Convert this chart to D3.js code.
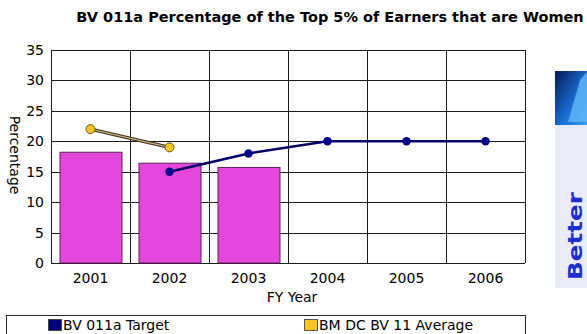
<!DOCTYPE html>
<html>
<head>
<meta charset="utf-8">
<script src="https://cdn.jsdelivr.net/npm/d3@7"></script>
<style>
  html, body { margin: 0; padding: 0; background: #fff; }
  svg { display: block; }
  text { font-family: "DejaVu Sans", Verdana, sans-serif; fill: #000; }
</style>
</head>
<body>
<svg id="chart" width="587" height="334"></svg>
<script>
// Fiscal years on the x axis
const years = ["2001", "2002", "2003", "2004", "2005", "2006"];
// Actual outturn (bars)
const actualValues = [18.2, 16.4, 15.7, null, null, null];
// BV 011a Target (navy line)
const targetValues = [null, 15, 18, 20, 20, 20];
// BM DC BV 11 Average (yellow line)
const averageValues = [22, 19, null, null, null, null];
// Value axis ticks
const yTicks = [0, 5, 10, 15, 20, 25, 30, 35];

const titleText = "BV 011a Percentage of the Top 5% of Earners that are Women";
const xTitle = "FY Year";
const yTitle = "Percentage";
const legendItems = [
  { label: "BV 011a Target", color: "#00007f" },
  { label: "BM DC BV 11 Average", color: "#f7c51e" }
];

const svg = d3.select("#chart");
const plot = { left: 51, right: 525, top: 50, bottom: 263 };

const x = d3.scaleBand().domain(years).range([plot.left, plot.right]).padding(0);
const y = d3.scaleLinear().domain([0, 35]).range([plot.bottom, plot.top]);
const cx = d => x(d) + x.bandwidth() / 2;

// Title
svg.append("text")
  .attr("x", 330).attr("y", 22)
  .attr("text-anchor", "middle")
  .style("font-weight", "bold")
  .style("font-size", "14.5px")
  .text(titleText);

// Horizontal gridlines
svg.append("g").selectAll("line").data(yTicks).join("line")
  .attr("x1", plot.left).attr("x2", plot.right)
  .attr("y1", d => Math.round(y(d)) + 0.5).attr("y2", d => Math.round(y(d)) + 0.5)
  .attr("stroke", "#1a1a1a").attr("stroke-width", 1);

// Vertical gridlines at category boundaries
const bounds = years.map(d => x(d)).concat([plot.right]);
svg.append("g").selectAll("line").data(bounds).join("line")
  .attr("x1", d => Math.round(d) + 0.5).attr("x2", d => Math.round(d) + 0.5)
  .attr("y1", plot.top).attr("y2", plot.bottom)
  .attr("stroke", "#1a1a1a").attr("stroke-width", 1);

// Y axis labels
const yAxis = d3.axisLeft(y).tickValues(yTicks).tickSize(0).tickPadding(7);
const gy = svg.append("g").attr("transform", `translate(${plot.left},0)`).call(yAxis);
gy.select(".domain").remove();
gy.selectAll("text").style("font-size", "14px").style("font-family", "DejaVu Sans, sans-serif");

// X axis labels
const xAxis = d3.axisBottom(x).tickSize(0).tickPadding(10);
const gx = svg.append("g").attr("transform", `translate(0,${plot.bottom})`).call(xAxis);
gx.select(".domain").remove();
gx.selectAll("text").style("font-size", "14px").style("font-family", "DejaVu Sans, sans-serif");

// Bars
const barW = 62;
svg.append("g").selectAll("rect")
  .data(years.map((yr, i) => ({ yr, v: actualValues[i] })).filter(d => d.v != null))
  .join("rect")
  .attr("x", d => cx(d.yr) - barW / 2 + 0.5)
  .attr("y", d => y(d.v))
  .attr("width", barW)
  .attr("height", d => y(0) - y(d.v))
  .attr("fill", "#e447dc")
  .attr("stroke", "#5e1f5a")
  .attr("stroke-width", 1);

// Average line (outlined tan stroke)
const avgPts = years.map((yr, i) => ({ yr, v: averageValues[i] })).filter(d => d.v != null);
const line = d3.line().x(d => cx(d.yr)).y(d => y(d.v));
svg.append("path").datum(avgPts).attr("d", line)
  .attr("fill", "none").attr("stroke", "#3b2f1c").attr("stroke-width", 3.5);
svg.append("path").datum(avgPts).attr("d", line)
  .attr("fill", "none").attr("stroke", "#c9b27e").attr("stroke-width", 1.3);
svg.append("g").selectAll("circle").data(avgPts).join("circle")
  .attr("cx", d => cx(d.yr)).attr("cy", d => y(d.v)).attr("r", 4.5)
  .attr("fill", "#f7c51e").attr("stroke", "#6b5320").attr("stroke-width", 1);

// Target line
const tgtPts = years.map((yr, i) => ({ yr, v: targetValues[i] })).filter(d => d.v != null);
svg.append("path").datum(tgtPts).attr("d", line)
  .attr("fill", "none").attr("stroke", "#000066").attr("stroke-width", 2.5);
svg.append("g").selectAll("circle").data(tgtPts).join("circle")
  .attr("cx", d => cx(d.yr)).attr("cy", d => y(d.v)).attr("r", 4.2)
  .attr("fill", "#00008b");

// Axis titles
svg.append("text")
  .attr("x", 292).attr("y", 302)
  .attr("text-anchor", "middle")
  .style("font-size", "14px")
  .text(xTitle);

svg.append("text")
  .attr("transform", "translate(10,155) rotate(90)")
  .attr("text-anchor", "middle")
  .style("font-size", "14px")
  .text(yTitle);

// Legend
svg.append("rect")
  .attr("x", 6.5).attr("y", 315.5).attr("width", 519).attr("height", 30)
  .attr("fill", "#fff").attr("stroke", "#222").attr("stroke-width", 1);
const legendX = [48, 304];
const lg = svg.append("g").selectAll("g").data(legendItems).join("g")
  .attr("transform", (d, i) => `translate(${legendX[i]},319)`);
lg.append("rect").attr("x", 0.5).attr("y", 0.5).attr("width", 13).attr("height", 11)
  .attr("fill", d => d.color).attr("stroke", "#333").attr("stroke-width", 0.8);
lg.append("text").attr("x", 15).attr("y", 11)
  .style("font-size", "14px")
  .text(d => d.label);

// Side banner
const defs = svg.append("defs");
const grad = defs.append("linearGradient").attr("id", "bannerTop")
  .attr("x1", "0").attr("y1", "0").attr("x2", "1").attr("y2", "1");
grad.append("stop").attr("offset", "0%").attr("stop-color", "#061a55");
grad.append("stop").attr("offset", "60%").attr("stop-color", "#1a6fd8");
grad.append("stop").attr("offset", "100%").attr("stop-color", "#3aa0ee");
svg.append("rect").attr("x", 555).attr("y", 125).attr("width", 32).attr("height", 163)
  .attr("fill", "#e9ecf6");
svg.append("rect").attr("x", 555).attr("y", 71).attr("width", 32).attr("height", 54)
  .attr("fill", "url(#bannerTop)");
svg.append("path")
  .attr("d", "M568,122 L580,80 L587,72 L587,122 Z")
  .attr("fill", "#5fb4f4").attr("opacity", 0.85);
svg.append("text")
  .attr("transform", "translate(582,280) rotate(-90)")
  .attr("textLength", 88)
  .attr("lengthAdjust", "spacingAndGlyphs")
  .style("font-size", "19px")
  .style("font-weight", "bold")
  .style("fill", "#1d2fcc")
  .text("Better");
</script>
</body>
</html>
